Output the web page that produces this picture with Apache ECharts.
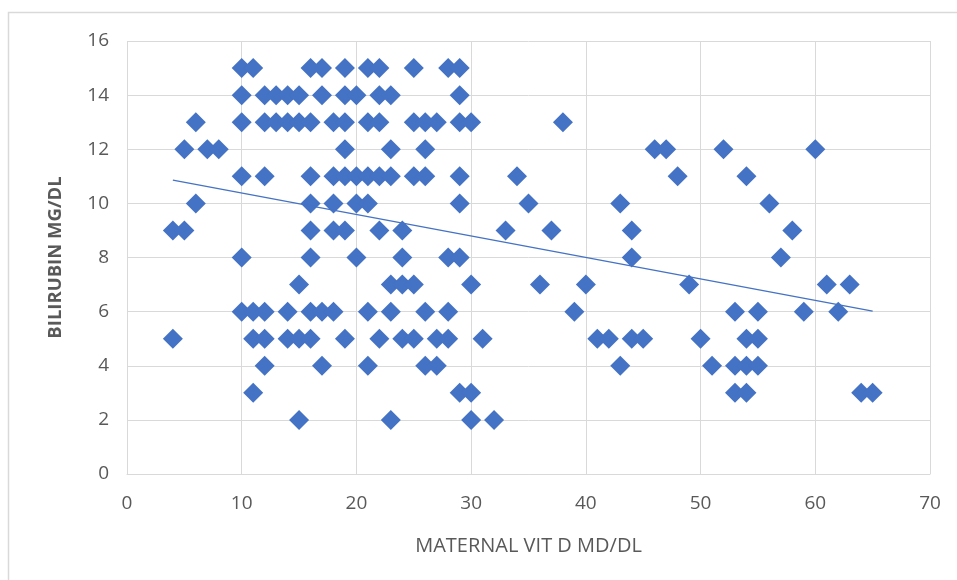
<!DOCTYPE html>
<html>
<head>
<meta charset="utf-8">
<script src="https://cdn.jsdelivr.net/npm/echarts@6/dist/echarts.min.js"></script>
<style>
html,body{margin:0;padding:0;background:#fff;}
#c{width:957px;height:580px;}
</style>
</head>
<body>
<div id="c"></div>
<script>
// Points grouped by bilirubin value (y): x values (maternal vit D)
const yLevels = [15, 14, 13, 12, 11, 10, 9, 8, 7, 6, 5, 4, 3, 2];
const xAt15 = [10,11,16,17,19,21,22,25,28,29];
const xAt14 = [10,12,13,14,15,17,19,20,22,23,29];
const xAt13 = [6,10,12,13,14,15,16,18,19,21,22,25,26,27,29,30,38];
const xAt12 = [5,7,8,19,23,26,46,47,52,60];
const xAt11 = [10,12,16,18,19,20,21,22,23,25,26,29,34,48,54];
const xAt10 = [6,16,18,20,21,29,35,43,56];
const xAt9  = [4,5,16,18,19,22,24,33,37,44,58];
const xAt8  = [10,16,20,24,28,29,44,57];
const xAt7  = [15,23,24,25,30,36,40,49,61,63];
const xAt6  = [10,11,12,14,16,17,18,21,23,26,28,39,53,55,59,62];
const xAt5  = [4,11,12,14,15,16,19,22,24,25,27,28,31,41,42,44,45,50,54,55];
const xAt4  = [12,17,21,26,27,43,51,53,54,55];
const xAt3  = [11,29,30,53,54,64,65];
const xAt2  = [15,23,30,32];
// Linear trendline endpoints
const trendX = [4, 65];
const trendY = [10.86, 6.02];
const xTicks = [0,10,20,30,40,50,60,70];
const yTicks = [0,2,4,6,8,10,12,14,16];

const groups = [xAt15,xAt14,xAt13,xAt12,xAt11,xAt10,xAt9,xAt8,xAt7,xAt6,xAt5,xAt4,xAt3,xAt2];
const points = [];
groups.forEach((g,i)=>g.forEach(x=>points.push([x, yLevels[i]])));
const trend = trendX.map((x,i)=>[x, trendY[i]]);

const chart = echarts.init(document.getElementById('c'), null, {renderer:'canvas'});
const font = "'Open Sans',sans-serif";
chart.setOption({
  animation:false,
  backgroundColor:'#fff',
  graphic:[{type:'rect',shape:{x:8.5,y:12.5,width:1000,height:1000},style:{fill:'none',stroke:'#d9d9d9',lineWidth:1.5},silent:true}],
  grid:{left:127,right:27,top:41,bottom:106},
  xAxis:{
    type:'value',min:0,max:70,interval:10,
    name:'MATERNAL VIT D MD/DL',nameLocation:'middle',nameGap:62,
    nameTextStyle:{color:'#595959',fontSize:20,fontFamily:font},
    axisLine:{show:true,lineStyle:{color:'#d9d9d9'}},
    axisTick:{show:false},
    axisLabel:{color:'#595959',fontSize:19,fontFamily:font,margin:20,formatter:v=>xTicks.includes(v)?String(v):''},
    splitLine:{show:true,lineStyle:{color:'#d9d9d9',width:1}}
  },
  yAxis:{
    type:'value',min:0,max:16,interval:2,
    name:'BILIRUBIN MG/DL',nameLocation:'middle',nameGap:62,
    nameTextStyle:{color:'#595959',fontSize:18.5,fontWeight:'bold',fontFamily:font},
    axisLine:{show:false},
    axisTick:{show:false},
    axisLabel:{color:'#595959',fontSize:19,fontFamily:font,margin:18,formatter:v=>yTicks.includes(v)?String(v):''},
    splitLine:{show:true,lineStyle:{color:'#d9d9d9',width:1}}
  },
  series:[
    {type:'scatter',data:points,symbol:'diamond',symbolSize:[20,20],itemStyle:{color:'#4472C4',opacity:1}},
    {type:'line',data:trend,symbol:'none',lineStyle:{color:'#4472C4',width:1.2},z:3}
  ]
});
</script>
</body>
</html>
